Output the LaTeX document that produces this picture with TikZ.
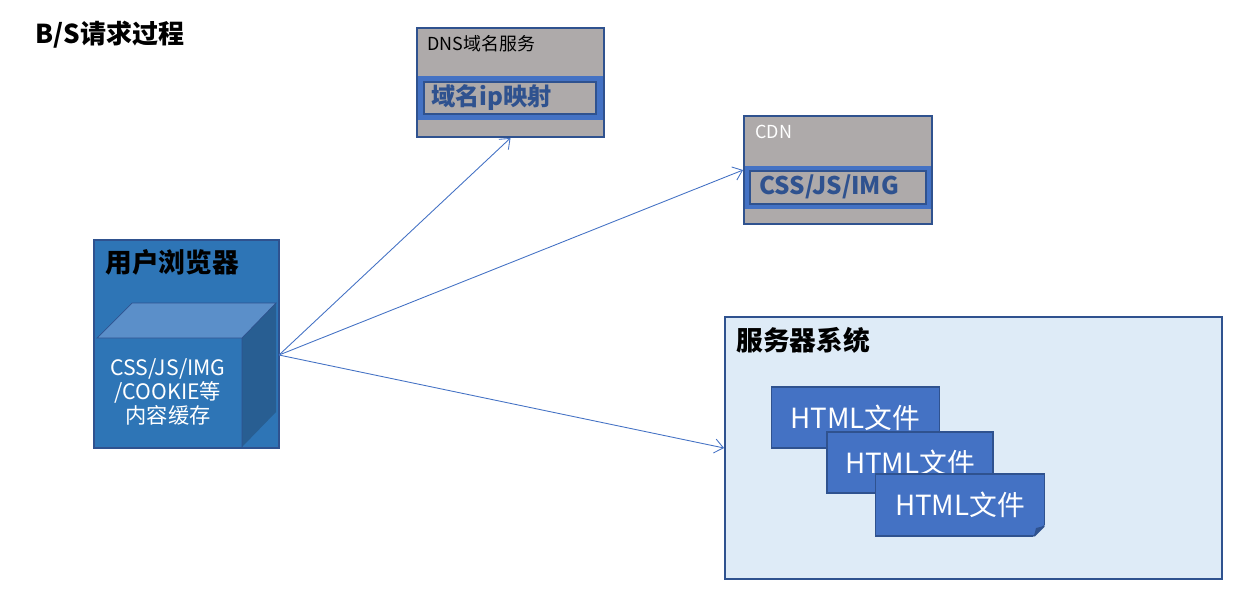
\documentclass[tikz,border=0pt]{standalone}
\usepackage{fontspec}
\setmainfont{Noto Sans CJK SC}
\usepackage{tikz}
\usetikzlibrary{arrows.meta}

\definecolor{boxgrey}{HTML}{AEAAAA}
\definecolor{edgeblue}{HTML}{2F528F}
\definecolor{bandblue}{HTML}{4472C4}
\definecolor{browserblue}{HTML}{2E75B6}
\definecolor{cubetop}{HTML}{5B8FC9}
\definecolor{cubeside}{HTML}{285E92}
\definecolor{serverbg}{HTML}{DEEBF7}

\tikzset{
  px/.style={x=0.02cm,y=-0.02cm},
  greybox/.style={draw=edgeblue,fill=boxgrey,line width=1.1pt,inner sep=0pt},
  docbox/.style={draw=edgeblue,fill=bandblue,line width=1pt,inner sep=0pt,
    minimum width=3.36cm,minimum height=1.22cm,text=white,
    font=\fontsize{15.8}{18}\selectfont},
  request/.style={draw=bandblue,line width=0.5pt,-{Straight Barb[length=5pt,width=8pt]}},
  heading/.style={anchor=west,inner sep=0pt,font=\fontsize{15.2}{18}\selectfont\bfseries}
}

\begin{document}
\begin{tikzpicture}[px]
    \useasboundingbox (0,0) rectangle (1256,600);

    % title
    \node[heading,font=\fontsize{14.8}{18}\selectfont\bfseries] (title) at (35,35) {B/S请求过程};

    % DNS server
    \node[greybox,minimum width=3.74cm,minimum height=2.18cm] (dns) at (510.5,82.5) {};
    \node[anchor=west,inner sep=0pt,font=\fontsize{10.2}{12}\selectfont] (dnslabel) at (427,44) {DNS域名服务};
    \fill[bandblue] (418,76) rectangle (603,120);
    \draw[edgeblue,line width=1.2pt,fill=boxgrey] (424,82) rectangle (596,114);
    \node[anchor=west,inner sep=0pt,text=edgeblue,font=\fontsize{13.8}{16}\selectfont\bfseries] (ipmap) at (431,98) {域名ip映射};

    % CDN
    \node[greybox,minimum width=3.76cm,minimum height=2.16cm] (cdn) at (838,170) {};
    \node[anchor=west,inner sep=0pt,text=white,font=\fontsize{10.2}{12}\selectfont] (cdnlabel) at (755,132) {CDN};
    \fill[bandblue] (745,166) rectangle (931,209);
    \draw[edgeblue,line width=1.2pt,fill=boxgrey] (750,171) rectangle (926,204);
    \node[anchor=west,inner sep=0pt,text=edgeblue,font=\fontsize{13.8}{16}\selectfont\bfseries] (cdnfiles) at (759,187) {CSS/JS/IMG};

    % user browser with its cache cube
    \node[draw=edgeblue,fill=browserblue,line width=1.1pt,minimum width=3.7cm,minimum height=4.16cm] (browser) at (186.5,344) {};
    \node[heading] (browserlabel) at (105,262) {用户浏览器};
    \fill[cubetop] (97,338) -- (132,303) -- (276,303) -- (242,338) -- cycle;
    \fill[cubeside] (242,338) -- (276,303) -- (276,412) -- (242,447) -- cycle;
    \draw[edgeblue,line width=0.4pt] (97,338) -- (132,303) -- (276,303) -- (242,338) -- cycle
      (242,338) -- (242,447);
    \node[align=center,text=white,inner sep=0pt,font=\fontsize{12.1}{13.8}\selectfont] (cache) at (168,392)
      {CSS/JS/IMG\\/COOKIE等\\内容缓存};
    \coordinate (src) at (279,355);

    % server system
    \node[draw=edgeblue,fill=serverbg,line width=1.1pt,minimum width=9.94cm,minimum height=5.24cm] (server) at (973.5,448) {};
    \node[heading] (serverlabel) at (736,340) {服务器系统};
    \node[docbox] (doc1) at (855.5,417.5) {HTML文件};
    \node[docbox,minimum width=3.32cm] (doc2) at (910,462.5) {HTML文件};
    \node[docbox,minimum width=3.38cm,minimum height=1.24cm] (doc3) at (960,505) {HTML文件};
    % folded corner
    \fill[serverbg] (1046,524) -- (1046,538) -- (1032,538) -- cycle;
    \fill[edgeblue] (1044,526) -- (1034,536) -- (1036,528) -- cycle;
    \draw[edgeblue,line width=1pt] (1044,526) -- (1034,536);

    % requests
    \draw[request] (src) -- (dns.south);
    \draw[request] (src) -- (cdn.west);
    \draw[request] (src) -- (server.west);
\end{tikzpicture}
\end{document}
